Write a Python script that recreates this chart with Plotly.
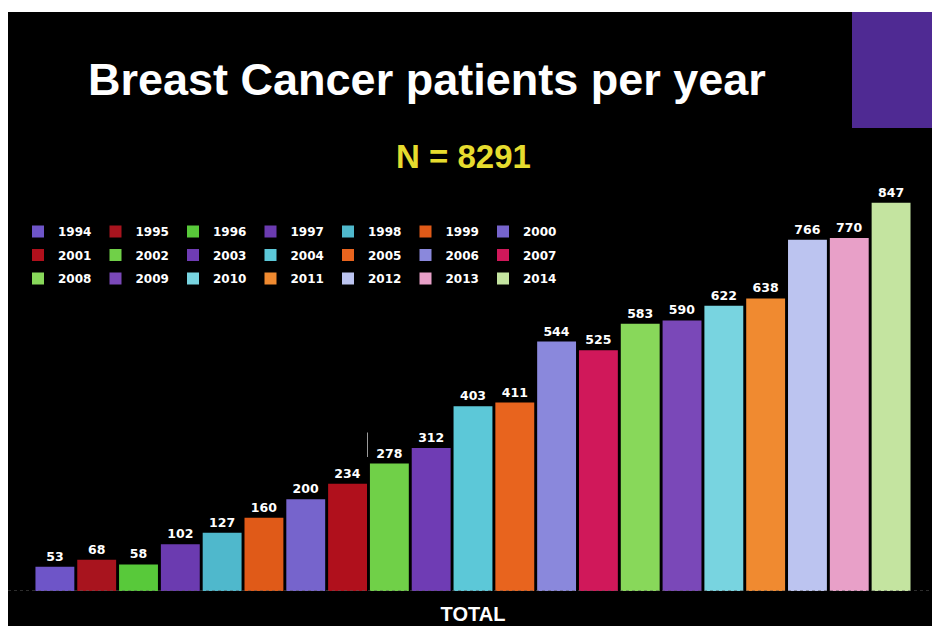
import plotly.graph_objects as go

# Breast cancer patients per year (single "TOTAL" category, one series per year)
years = ["1994", "1995", "1996", "1997", "1998", "1999", "2000",
         "2001", "2002", "2003", "2004", "2005", "2006", "2007",
         "2008", "2009", "2010", "2011", "2012", "2013", "2014"]
patients = [53, 68, 58, 102, 127, 160, 200,
            234, 278, 312, 403, 411, 544, 525,
            583, 590, 622, 638, 766, 770, 847]
bar_colors = ["#6E55C8", "#A8141E", "#58C93A", "#6B3BB0", "#4FB8CC", "#E05A18", "#7664CC",
              "#B0101C", "#70D048", "#6F3CB4", "#5CC8D8", "#E8641E", "#8A88DC", "#D0185A",
              "#88D85A", "#7A48B8", "#78D4E0", "#F08A30", "#BCC4F0", "#E8A0C8", "#C4E4A0"]
category = "TOTAL"
total_n = sum(patients)

W, H = 932, 626
M_L, M_R, M_T, M_B = 8, 0, 12, 35
PW, PH = W - M_L - M_R, H - M_T - M_B


def px_x(x):
    return (x - M_L) / PW


def px_y(y):
    return (H - M_B - y) / PH


label_font = dict(family="DejaVu Sans", size=12, color="white", weight="bold")

fig = go.Figure()
legend_ids = ["legend", "legend2", "legend3"]
for i, (yr, val, col) in enumerate(zip(years, patients, bar_colors)):
    fig.add_trace(go.Bar(
        x=[category], y=[val], name=yr,
        marker=dict(color=col, line=dict(width=0)),
        texttemplate="%{y}", textposition="outside",
        textfont=dict(label_font, size=12.5), cliponaxis=False,
        legend=legend_ids[i // 7],
    ))

legend_rows_y = [231.5, 255, 278.5]
legend_common = dict(
    orientation="h", xanchor="left", yanchor="middle",
    x=px_x(18), bgcolor="rgba(0,0,0,0)",
    font=label_font, entrywidth=32.5, entrywidthmode="pixels",
    traceorder="normal",
)

fig.update_layout(
    width=W, height=H,
    margin=dict(l=M_L, r=M_R, t=M_T, b=M_B, autoexpand=False),
    paper_bgcolor="black", plot_bgcolor="black",
    barmode="group", bargap=0.0, bargroupgap=0.07,
    showlegend=True,
    legend=dict(legend_common, y=px_y(legend_rows_y[0])),
    legend2=dict(legend_common, y=px_y(legend_rows_y[1])),
    legend3=dict(legend_common, y=px_y(legend_rows_y[2])),
    xaxis=dict(
        range=[-0.5296, 0.5228], showgrid=False, zeroline=False,
        showline=False, ticks="", automargin=False,
        tickfont=dict(family="Liberation Sans", size=20, color="white", weight="bold"),
        ticklabelstandoff=9, fixedrange=True,
    ),
    yaxis=dict(range=[0, 1262.8], visible=False, fixedrange=True),
    annotations=[
        dict(text="Breast Cancer patients per year", xref="paper", yref="paper",
             x=px_x(427), y=px_y(79), xanchor="center", yanchor="middle",
             showarrow=False,
             font=dict(family="Liberation Sans", size=45, color="white", weight="bold")),
        dict(text=f"N = {total_n}", xref="paper", yref="paper",
             x=px_x(463.5), y=px_y(157), xanchor="center", yanchor="middle",
             showarrow=False,
             font=dict(family="Liberation Sans", size=33, color="#E6DC2E", weight="bold")),
    ],
    shapes=[
        # white frame strips along the top and left edges
        dict(type="rect", xref="paper", yref="paper", x0=px_x(0), x1=px_x(W),
             y0=px_y(M_T), y1=px_y(0), fillcolor="white", line=dict(width=0), layer="above"),
        dict(type="rect", xref="paper", yref="paper", x0=px_x(0), x1=px_x(M_L),
             y0=px_y(H), y1=px_y(0), fillcolor="white", line=dict(width=0), layer="above"),
        # purple block in the top-right corner
        dict(type="rect", xref="paper", yref="paper", x0=px_x(852), x1=1,
             y0=px_y(128), y1=1, fillcolor="#4F2A93", line=dict(width=0), layer="below"),
        # dotted baseline
        dict(type="line", xref="paper", yref="y", x0=0, x1=1, y0=0, y1=0,
             line=dict(color="#5a5a5a", width=1, dash="dot"), layer="above"),
        # thin divider tick above the 1996/1997 bars
        dict(type="line", xref="paper", yref="paper", x0=px_x(367.5), x1=px_x(367.5),
             y0=px_y(457), y1=px_y(432.5), line=dict(color="#9a9a9a", width=1)),
    ],
)

fig.write_html("out.html")
